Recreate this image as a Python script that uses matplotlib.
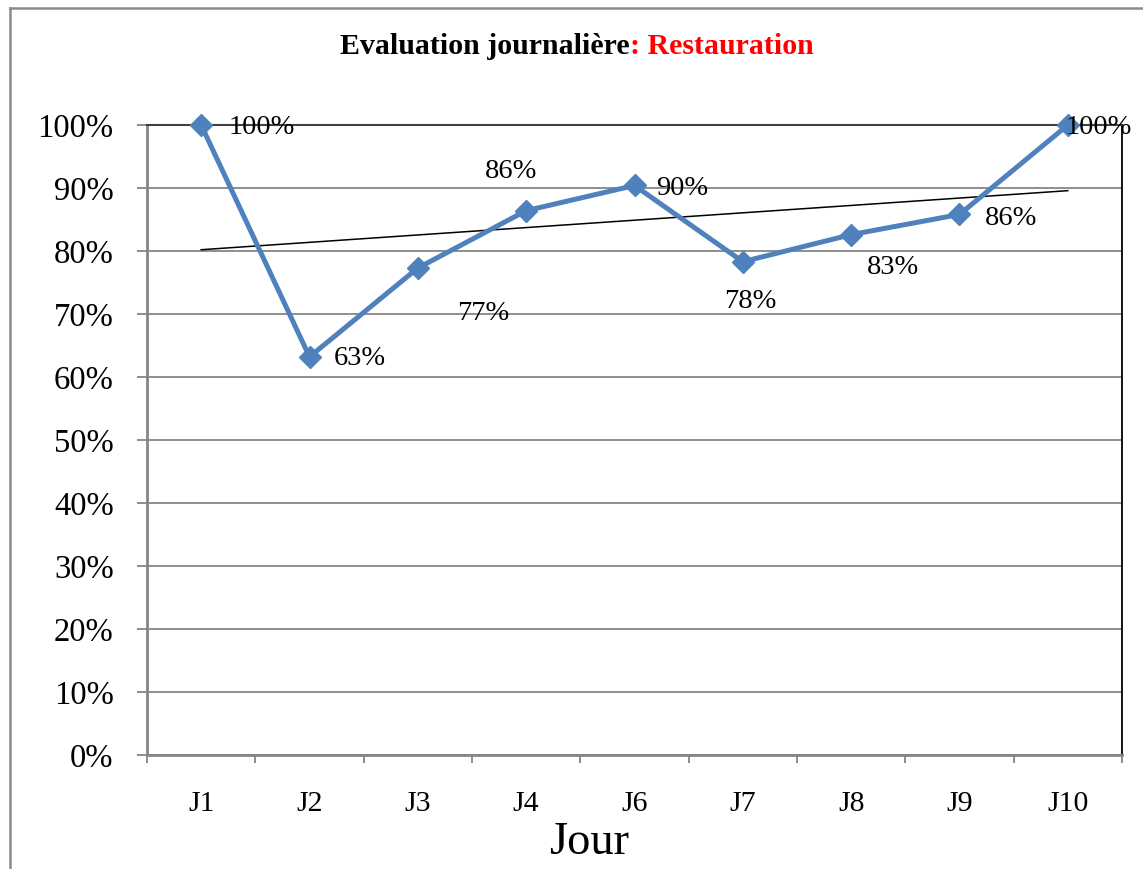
import numpy as np
import matplotlib
matplotlib.use("Agg")
import matplotlib.pyplot as plt
from matplotlib.lines import Line2D

# Data
days = ["J1", "J2", "J3", "J4", "J6", "J7", "J8", "J9", "J10"]
scores = [100, 63.2, 77.3, 86.4, 90.4, 78.3, 82.6, 85.8, 100]

# label offsets (pixels) relative to each point, and alignment
label_offsets = [(27, -3), (24, -2), (65, -45), (-15, 39), (22, -3),
                 (7, -40), (42, -33), (25, -4), (-2, -3)]
label_ha = ["left", "left", "center", "center", "left",
            "center", "center", "left", "left"]

plt.rcParams["font.family"] = ["Liberation Serif", "DejaVu Serif"]

W, H = 1143, 869
fig = plt.figure(figsize=(W / 100, H / 100), dpi=100)
ax = fig.add_axes([147 / W, 1 - 755 / H, (1122 - 147) / W, (755 - 125) / H])

x = np.arange(len(days))
ax.plot(x, scores, color="#4F81BD", lw=3.6, marker="D", ms=11, zorder=4,
        solid_joinstyle="miter", clip_on=False)

# linear trend line
slope, inter = np.polyfit(x, scores, 1)
ax.plot(x, slope * x + inter, color="black", lw=1.1, zorder=3)

for i, v in enumerate(scores):
    dx, dy = label_offsets[i]
    ax.annotate(f"{v:.0f}%", (x[i], v), xytext=(dx, dy), textcoords="offset pixels",
                ha=label_ha[i], va="center", fontsize=20.5, zorder=5)

ax.set_xlim(-0.5, len(days) - 0.5)
ax.set_ylim(0, 100)
ax.set_yticks(np.arange(0, 101, 10))
ax.set_yticklabels([f"{t}%" for t in range(0, 101, 10)], fontsize=23.5)
ax.yaxis.grid(True, color="#868686", lw=1.3)
ax.set_axisbelow(True)
ax.tick_params(axis="y", length=7, width=1.3, color="#868686", pad=17)

ax.set_xticks(x)
ax.set_xticklabels(days, fontsize=21.5)
ax.set_xticks(np.arange(-0.5, len(days), 1), minor=True)
ax.tick_params(axis="x", which="major", length=0, pad=26)
ax.tick_params(axis="x", which="minor", length=6, width=1.3, color="#868686")

for s in ["left", "bottom"]:
    ax.spines[s].set_color("#868686")
    ax.spines[s].set_linewidth(2)
ax.spines["right"].set_color("black")
ax.spines["right"].set_linewidth(1.3)
ax.spines["top"].set_color("#404040")
ax.spines["top"].set_linewidth(1.5)

fig.text(589 / W, 1 - 843 / H, "Jour", fontsize=33.5, ha="center", va="center")

# title in two colours
ty = 1 - 47 / H
fig.text(630 / W, ty, "Evaluation journalière", fontsize=21.5, fontweight="bold",
         ha="right", va="center", color="black")
fig.text(630 / W, ty, ": Restauration", fontsize=21.5, fontweight="bold",
         ha="left", va="center", color="red")

# outer chart border (left and top visible)
fig.add_artist(Line2D([9.5 / W, 9.5 / W], [0, 1 - 8 / H], transform=fig.transFigure,
                      color="#8c8c8c", lw=1.8))
fig.add_artist(Line2D([9.5 / W, 1], [1 - 8 / H, 1 - 8 / H], transform=fig.transFigure,
                      color="#8c8c8c", lw=1.8))

fig.savefig("out.png", dpi=100)
